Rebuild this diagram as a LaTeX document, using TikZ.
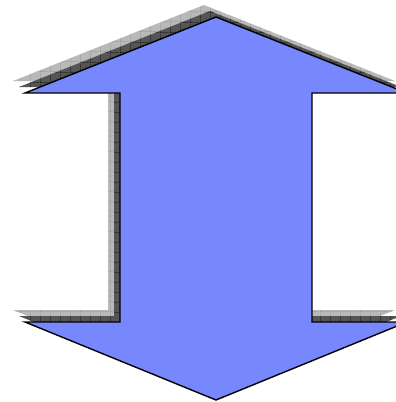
\documentclass[tikz,border=0pt]{standalone}
\usetikzlibrary{patterns.meta}
\definecolor{arrowblue}{RGB}{119,136,255}
\definecolor{shlight}{RGB}{185,185,185}
\definecolor{shdark}{RGB}{85,85,85}
\tikzdeclarepattern{
  name=shgrid, type=uncolored,
  bounding box={(0pt,0pt) and (10pt,10pt)},
  tile size={(10pt,10pt)},
  code={\draw[line width=0.6pt] (0pt,0pt) -- (10pt,0pt) (0pt,0pt) -- (0pt,10pt);}
}
\tikzset{
  mainarrow/.style={fill=arrowblue, draw=black, line width=1.4pt, line join=miter},
  lightshadow/.style={fill=shlight, postaction={pattern=shgrid, pattern color=gray!90}},
  darkshadow/.style={fill=shdark, postaction={pattern=shgrid, pattern color=black}}
}
\newcommand{\arrowpath}{(216,17) -- (407,93) -- (312,93) -- (312,322) -- (407,322) -- (216,400) -- (25,322) -- (120,322) -- (120,93) -- (25,93) -- cycle}
\begin{document}
\begin{tikzpicture}[x=1pt,y=-1pt]
\useasboundingbox (0,0) rectangle (396,402);
\clip (0,0) rectangle (396,402);
\begin{scope}[shift={(-12,-12)}]
  \path[lightshadow] \arrowpath;
\end{scope}
\begin{scope}[shift={(-6,-6)}]
  \path[darkshadow] \arrowpath;
\end{scope}
\path[mainarrow] \arrowpath;
\end{tikzpicture}
\end{document}
